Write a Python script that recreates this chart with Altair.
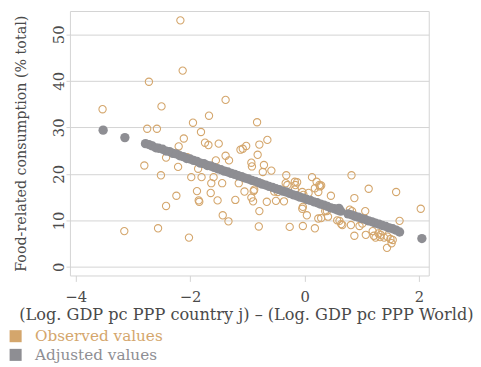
import altair as alt
import pandas as pd

# ---- data ----
obs_x = [-3.53, -3.15, -2.80, -2.75, -2.72, -2.58, -2.56, -2.51, -2.50, -2.42,
         -2.42, -2.24, -2.21, -2.20, -2.17, -2.13, -2.11, -2.02, -2.05, -1.95,
         -1.81, -1.67, -1.38, -1.74, -1.68, -1.50, -1.38, -1.32, -1.55, -1.12,
         -1.08, -1.02, -0.79, -0.83, -0.65, -0.82, -0.93, -0.92, -0.71, -0.73,
         -0.58, -0.32, 0.13, 0.82, -1.98, -1.80, -1.59, -1.63, -1.44, -1.15,
         -1.88, -1.85, -1.84, -1.64, -1.52, -1.43, -1.33, -1.21, -0.93, -0.90,
         -0.89, -0.79, -0.80, -0.66, -0.50, -0.36, -0.47, -0.17, -0.26, -0.03,
         0.18, -0.04, -0.03, 0.04, 0.24, 0.29, 0.36, 0.39, 0.46, 0.24,
         0.18, 0.57, 0.66, -0.04, 0.27, -0.30, -0.17, -0.13, 0.21, 0.29,
         1.12, 1.60, 0.87, 2.03, 1.66, 0.64, 0.81, 0.96, 1.01, 1.06,
         0.83, 0.79, 0.87, 1.07, 1.21, 1.24, 1.29, 1.33, 1.39, 1.36,
         1.50, 1.52, 1.44, 1.19, 0.61, -0.33, -0.16, 0.26, 0.07, -0.02,
         -0.76, -0.53, -0.88, -1.05, 0.41, 1.54, 1.45, 1.32, -1.86]
obs_y = [33.9, 7.7, 21.8, 29.7, 39.8, 29.7, 8.3, 19.7, 34.5, 23.5,
         13.1, 15.3, 21.5, 25.9, 53.0, 42.2, 27.6, 6.3, 23.6, 31.0,
         29.0, 32.5, 35.9, 26.7, 26.2, 26.5, 23.9, 22.9, 22.9, 25.2,
         25.4, 26.0, 26.3, 31.1, 27.3, 24.1, 22.4, 21.6, 21.9, 20.4,
         20.7, 19.7, 19.3, 19.7, 19.3, 19.3, 19.3, 18.0, 18.0, 18.0,
         16.3, 14.3, 14.0, 15.9, 14.3, 11.1, 9.8, 14.4, 14.9, 14.1,
         16.3, 12.0, 8.7, 14.0, 14.2, 14.1, 16.1, 16.6, 8.6, 8.8,
         8.3, 12.5, 12.9, 11.1, 10.4, 10.5, 12.0, 12.0, 15.3, 16.1,
         16.9, 10.0, 9.0, 16.1, 17.3, 17.6, 18.3, 18.2, 18.3, 17.5,
         16.8, 16.1, 14.8, 12.5, 9.9, 9.2, 9.0, 8.8, 9.3, 12.0,
         12.0, 12.3, 6.7, 6.9, 6.7, 6.3, 7.2, 6.9, 6.3, 7.7,
         6.0, 5.1, 4.1, 7.7, 9.9, 18.0, 17.6, 17.6, 15.9, 15.5,
         18.0, 16.2, 16.6, 16.2, 10.8, 5.8, 6.5, 6.4, 21.1]

adj_x = [-3.52, -3.14, -2.78, -2.72, -2.66, -2.60, -2.55, -2.48, -2.42, -2.36,
         -2.30, -2.24, -2.18, -2.12, -2.06, -2.00, -1.94, -1.88, -1.82, -1.76,
         -1.70, -1.64, -1.58, -1.52, -1.46, -1.40, -1.34, -1.28, -1.22, -1.16,
         -1.10, -1.04, -0.98, -0.92, -0.86, -0.80, -0.74, -0.68, -0.62, -0.56,
         -0.50, -0.44, -0.38, -0.32, -0.26, -0.20, -0.14, -0.08, -0.02, 0.04,
         0.10, 0.16, 0.22, 0.28, 0.34, 0.40, 0.46, 0.52, 0.58, 0.60,
         0.63, 0.76, 0.82, 0.88, 0.94, 1.00, 1.06, 1.12, 1.18, 1.24,
         1.30, 1.36, 1.42, 1.48, 1.54, 1.60, 1.66, 2.05]
adj_y = [29.4, 27.8, 26.5, 26.3, 26.0, 25.6, 25.5, 25.3, 24.9, 24.8,
         24.4, 24.3, 23.9, 23.7, 23.3, 23.2, 22.9, 22.7, 22.3, 22.2,
         21.8, 21.7, 21.4, 21.1, 20.9, 20.6, 20.4, 20.1, 19.9, 19.6,
         19.4, 19.1, 18.9, 18.6, 18.4, 18.1, 17.8, 17.6, 17.3, 17.1,
         16.8, 16.6, 16.3, 16.1, 15.8, 15.5, 15.3, 15.0, 14.8, 14.5,
         14.3, 14.0, 13.8, 13.5, 13.3, 13.0, 12.7, 12.5, 12.2, 12.6,
         12.0, 11.4, 11.2, 10.9, 10.7, 10.4, 10.2, 9.9, 9.7, 9.4,
         9.2, 8.9, 8.7, 8.4, 8.2, 7.9, 7.5, 6.1]

series_names = ["Observed values", "Adjusted values"]
series_colors = ["#D4A66C", "#8E8E93"]
x_ticks = [-4, -2, 0, 2]
y_ticks = [0, 10, 20, 30, 40, 50]
x_domain = [-4.10, 2.17]
y_domain = [-1.84, 55.0]

x_title = "(Log. GDP pc PPP country j) \u2013 (Log. GDP pc PPP World)"
y_title = "Food-related consumption (% total)"

FONT = "DejaVu Serif"
LINE = "#D3D3D3"
TXT = "#4A4A4A"

obs = pd.DataFrame({"x": obs_x, "y": obs_y, "series": series_names[0]})
adj = pd.DataFrame({"x": adj_x, "y": adj_y, "series": series_names[1]})

xs = alt.Scale(domain=x_domain, nice=False, zero=False)
ys = alt.Scale(domain=y_domain, nice=False, zero=False)
cs = alt.Scale(domain=series_names, range=series_colors)

x_axis = alt.Axis(values=x_ticks, format="d", grid=False, domain=False, title=x_title,
                  tickColor=LINE, tickSize=6, labelPadding=8,
                  labelFont=FONT, labelFontSize=15, labelColor=TXT,
                  titleFont=FONT, titleFontSize=16.4, titleColor=TXT, titleFontWeight="normal",
                  titleX=179, titleY=40, titleAlign="center", titleBaseline="middle")
y_axis = alt.Axis(values=y_ticks, format="d", grid=True, gridColor=LINE, domain=False, title=y_title,
                  tickColor=LINE, tickSize=4, labelPadding=3,
                  labelAngle=270, labelAlign="center", labelBaseline="alphabetic",
                  labelFont=FONT, labelFontSize=15, labelColor=TXT,
                  titleFont=FONT, titleFontSize=14.5, titleColor=TXT, titleFontWeight="normal",
                  titleAngle=270, titleX=-49, titleY=134.5,
                  titleAlign="center", titleBaseline="middle")

obs_layer = alt.Chart(obs).mark_point(shape="circle", filled=False, size=55, strokeWidth=1.1,
                                      opacity=1, color=series_colors[0]).encode(
    x=alt.X("x:Q", scale=xs, axis=x_axis),
    y=alt.Y("y:Q", scale=ys, axis=y_axis),
)

legend = alt.Legend(title=None, orient="none", legendX=-63, legendY=323,
                    symbolType="square", symbolSize=150, symbolStrokeWidth=0,
                    labelFont=FONT, labelFontSize=15.5, labelOffset=12, rowPadding=2,
                    padding=0,
                    labelColor=alt.ExprRef(expr="datum.value == 'Observed values' ? '#D4A66C' : '#8E8E93'"))

adj_layer = alt.Chart(adj).mark_circle(size=90, opacity=1).encode(
    x=alt.X("x:Q", scale=xs),
    y=alt.Y("y:Q", scale=ys),
    fill=alt.Fill("series:N", scale=cs, legend=legend),
)

chart = alt.layer(obs_layer, adj_layer).properties(
    width=365, height=269, autosize="none", background="white",
    padding={"left": 63, "top": 0, "right": 45, "bottom": 90},
).configure_view(stroke=LINE, strokeWidth=1)

chart.save("out.html", embed_options={"renderer": "svg", "actions": False})
